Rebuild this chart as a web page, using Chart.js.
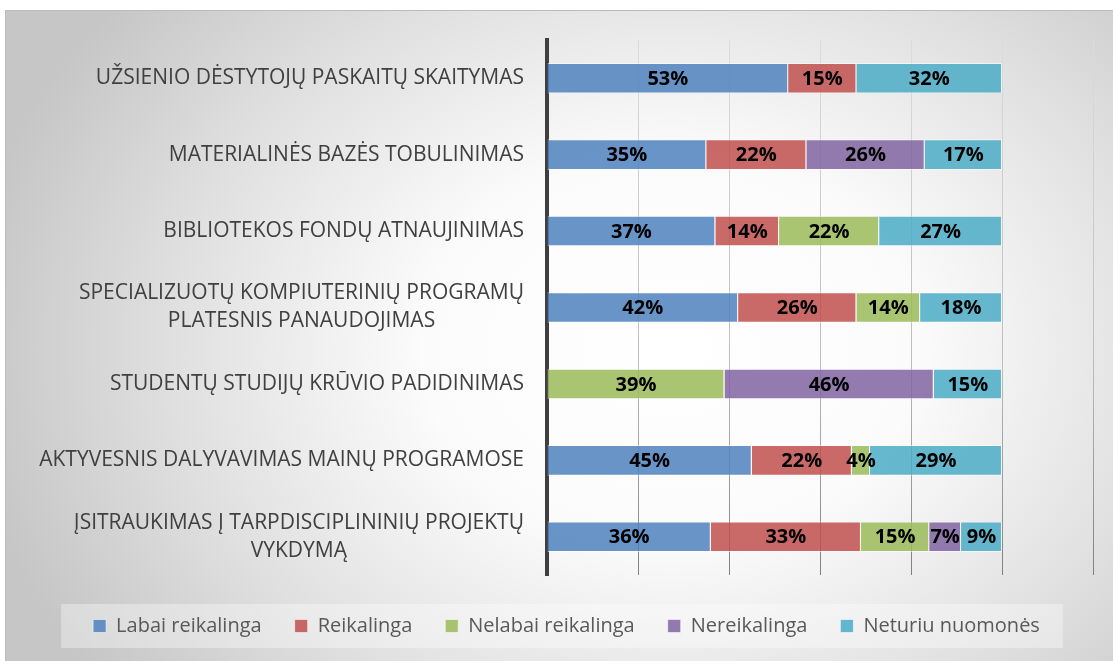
<!DOCTYPE html>
<html>
<head>
<meta charset="utf-8">
<script src="https://cdn.jsdelivr.net/npm/chart.js@4/dist/chart.umd.min.js"></script>
<style>
body{margin:0;background:#fff;width:1113px;height:661px;overflow:hidden;position:relative}
#panel{position:absolute;left:5px;top:10px;width:1108px;height:651px;
border-top:1px solid #bcbcbc;border-left:1px solid #bcbcbc;box-sizing:border-box;
background:radial-gradient(ellipse 64% 85% at 60% 52%,#ffffff 0%,#fbfbfb 35%,#e0e0e0 70%,#c6c6c6 100%)}
#c{position:absolute;left:0;top:0}
</style>
</head>
<body>
<div id="panel"></div>
<canvas id="c" width="1113" height="661"></canvas>
<script>

const categories = [
["UŽSIENIO DĖSTYTOJŲ PASKAITŲ SKAITYMAS"],
["MATERIALINĖS BAZĖS TOBULINIMAS"],
["BIBLIOTEKOS FONDŲ ATNAUJINIMAS"],
["SPECIALIZUOTŲ KOMPIUTERINIŲ PROGRAMŲ","PLATESNIS PANAUDOJIMAS"],
["STUDENTŲ STUDIJŲ KRŪVIO PADIDINIMAS"],
["AKTYVESNIS DALYVAVIMAS MAINŲ PROGRAMOSE"],
["ĮSITRAUKIMAS Į TARPDISCIPLININIŲ PROJEKTŲ","VYKDYMĄ"]
]

const seriesNames = ["Labai reikalinga","Reikalinga","Nelabai reikalinga","Nereikalinga","Neturiu nuomonės"]

const labaiReikalinga = [53,35,37,42,null,45,36]
const reikalinga = [15,22,14,26,null,22,33]
const nelabaiReikalinga = [null,null,22,14,39,4,15]
const nereikalinga = [null,26,null,null,46,null,7]
const neturiuNuomones = [32,17,27,18,15,29,9]

const xTicks = [0,20,40,60,80,100,120]

const colors = ["rgba(79,129,189,0.85)","rgba(192,80,77,0.85)","rgba(155,187,89,0.85)","rgba(128,100,162,0.85)","rgba(75,172,198,0.85)"]

const FONT = "'Open Sans', sans-serif"

const values = [labaiReikalinga,reikalinga,nelabaiReikalinga,nereikalinga,neturiuNuomones]

const datasets = seriesNames.map((name,i)=>({
label:name,
data:values[i],
backgroundColor:colors[i],
borderColor:"rgba(255,255,255,0.55)",
borderWidth:1,
categoryPercentage:1,
barPercentage:0.4
}))

// category labels: block right-aligned to the axis, lines centred inside it
const categoryLabels = {
id:"categoryLabels",
afterDraw(chart){
const ctx = chart.ctx
const y = chart.scales.y
const right = chart.chartArea.left - 23
const lh = 28
ctx.save()
ctx.font = "21px " + FONT
ctx.fillStyle = "#404040"
ctx.textBaseline = "middle"
ctx.textAlign = "center"
categories.forEach((lines,i)=>{
const w = Math.max(...lines.map(l=>ctx.measureText(l).width))
const cx = right - w/2
const cy = y.getPixelForValue(i) - (lines.length-1)*lh/2
lines.forEach((l,k)=>ctx.fillText(l,cx,cy+k*lh))
})
ctx.restore()
}
}

const valueLabels = {
id:"valueLabels",
afterDatasetsDraw(chart){
const ctx = chart.ctx
ctx.save()
ctx.font = "bold 20px " + FONT
ctx.fillStyle = "#000"
ctx.textAlign = "center"
ctx.textBaseline = "middle"
chart.data.datasets.forEach((ds,i)=>{
chart.getDatasetMeta(i).data.forEach((bar,j)=>{
const v = ds.data[j]
if(v==null) return
ctx.fillText(v+"%",(bar.x+bar.base)/2,bar.y+1)
})
})
ctx.restore()
}
}

const legendBox = {
id:"legendBox",
beforeDraw(chart){
const boxes = chart.legend.legendHitBoxes
if(!boxes || !boxes.length) return
const left = Math.min(...boxes.map(b=>b.left)) - 32
const right = Math.max(...boxes.map(b=>b.left+b.width)) + 23
const top = boxes[0].top - 12
const ctx = chart.ctx
ctx.save()
ctx.fillStyle = "rgba(255,255,255,0.35)"
ctx.fillRect(left,top,right-left,44)
ctx.restore()
}
}

const legendHeight = {
id:"legendHeight",
beforeInit(chart){
const fit = chart.legend.fit
chart.legend.fit = function(){
fit.bind(chart.legend)()
this.height = 78
}
}
}

new Chart(document.getElementById("c"),{
type:"bar",
data:{labels:categories,datasets:datasets},
plugins:[legendHeight,legendBox,categoryLabels,valueLabels],
options:{
indexAxis:"y",
responsive:false,
animation:false,
layout:{padding:{top:40,right:20,left:40,bottom:0}},
plugins:{
tooltip:{enabled:false},
legend:{
position:"bottom",
labels:{
boxWidth:13,
boxHeight:13,
padding:33,
color:"#595959",
font:{family:FONT,size:20}
}
}
},
scales:{
x:{
stacked:true,
min:xTicks[0],
max:xTicks[xTicks.length-1],
afterBuildTicks(s){ s.ticks = xTicks.map(v=>({value:v})) },
afterFit(s){ s.height = 8 },
ticks:{display:false},
border:{display:false},
grid:{
drawTicks:false,
color(c){
const a = c.chart.chartArea
if(!a) return "#ccc"
const g = c.chart.ctx.createLinearGradient(0,a.top,0,a.bottom)
g.addColorStop(0,"#dcdcdc")
g.addColorStop(0.6,"#bdbdbd")
g.addColorStop(1,"#808080")
return g
}
}
},
y:{
stacked:true,
afterFit(s){ s.width = 507 },
ticks:{display:false},
grid:{display:false},
border:{display:true,color:"#3f3f3f",width:4}
}
}
}
})

</script>
</body>
</html>
